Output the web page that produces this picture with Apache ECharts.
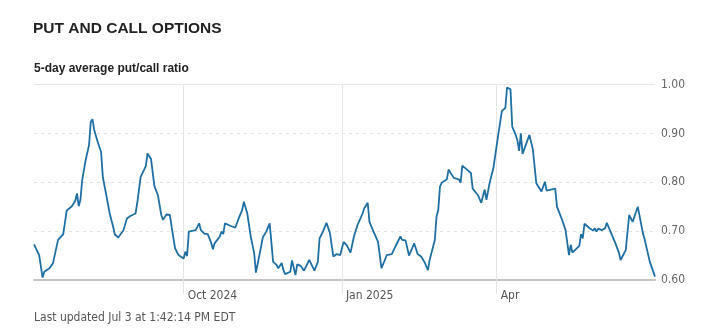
<!DOCTYPE html>
<html>
<head>
<meta charset="utf-8">
<script src="https://cdn.jsdelivr.net/npm/echarts@6/dist/echarts.min.js"></script>
<style>
  html, body { margin: 0; padding: 0; background: #fff; }
  #chart { width: 715px; height: 333px; }
</style>
</head>
<body>
<div id="chart"></div>
<script>
// 5-day average put/call ratio, one point per observed turning point
const dates = [
  '2024-07-06','2024-07-09','2024-07-11','2024-07-12','2024-07-15','2024-07-17','2024-07-20','2024-07-23',
  '2024-07-25','2024-07-26','2024-07-28','2024-07-30','2024-07-31','2024-08-01','2024-08-02','2024-08-03',
  '2024-08-05','2024-08-07','2024-08-08','2024-08-09','2024-08-10','2024-08-12','2024-08-14','2024-08-15',
  '2024-08-17','2024-08-19','2024-08-21','2024-08-22','2024-08-24','2024-08-25','2024-08-27','2024-08-29',
  '2024-08-31','2024-09-03','2024-09-04','2024-09-06','2024-09-09','2024-09-10','2024-09-12','2024-09-14',
  '2024-09-16','2024-09-18','2024-09-19','2024-09-21','2024-09-23','2024-09-24','2024-09-25','2024-09-26',
  '2024-09-28','2024-10-01','2024-10-02','2024-10-03','2024-10-04','2024-10-05','2024-10-08','2024-10-10',
  '2024-10-11','2024-10-13','2024-10-15','2024-10-17','2024-10-18','2024-10-19','2024-10-22','2024-10-23',
  '2024-10-24','2024-10-25','2024-10-28','2024-10-31','2024-11-02','2024-11-04','2024-11-05','2024-11-07',
  '2024-11-09','2024-11-11','2024-11-12','2024-11-13','2024-11-15','2024-11-16','2024-11-18','2024-11-20',
  '2024-11-21','2024-11-22','2024-11-24','2024-11-25','2024-11-27','2024-11-28','2024-11-29','2024-12-02',
  '2024-12-03','2024-12-05','2024-12-06','2024-12-08','2024-12-10','2024-12-13','2024-12-16','2024-12-18',
  '2024-12-19','2024-12-21','2024-12-23','2024-12-25','2024-12-26','2024-12-27','2024-12-29','2024-12-30',
  '2024-12-31','2025-01-02','2025-01-04','2025-01-06','2025-01-08','2025-01-10','2025-01-13','2025-01-14',
  '2025-01-16','2025-01-17','2025-01-19','2025-01-22','2025-01-24','2025-01-26','2025-01-27','2025-01-28',
  '2025-01-30','2025-02-01','2025-02-04','2025-02-05','2025-02-07','2025-02-09','2025-02-12','2025-02-14',
  '2025-02-16','2025-02-18','2025-02-20','2025-02-21','2025-02-24','2025-02-25','2025-02-26','2025-02-27',
  '2025-02-28','2025-03-03','2025-03-04','2025-03-07','2025-03-10','2025-03-11','2025-03-12','2025-03-14',
  '2025-03-17','2025-03-18','2025-03-19','2025-03-21','2025-03-23','2025-03-25','2025-03-26','2025-03-28',
  '2025-03-30','2025-03-31','2025-04-01','2025-04-02','2025-04-04','2025-04-06','2025-04-07','2025-04-08',
  '2025-04-09','2025-04-10','2025-04-12','2025-04-13','2025-04-14','2025-04-15','2025-04-16','2025-04-20',
  '2025-04-22','2025-04-24','2025-04-27','2025-04-29','2025-04-30','2025-05-05','2025-05-06','2025-05-09',
  '2025-05-11','2025-05-13','2025-05-14','2025-05-15','2025-05-19','2025-05-20','2025-05-21','2025-05-22',
  '2025-05-25','2025-05-27','2025-05-28','2025-05-29','2025-05-30','2025-06-01','2025-06-03','2025-06-04',
  '2025-06-07','2025-06-09','2025-06-11','2025-06-12','2025-06-15','2025-06-17','2025-06-19','2025-06-22',
  '2025-06-23','2025-06-25','2025-06-26','2025-06-29','2025-07-02'
];

const ratios = [
  0.673,0.651,0.605,0.617,0.624,0.634,0.682,0.694,
  0.742,0.745,0.751,0.762,0.777,0.751,0.764,0.804,
  0.845,0.876,0.924,0.929,0.907,0.883,0.862,0.811,
  0.774,0.736,0.709,0.693,0.687,0.692,0.702,0.726,
  0.731,0.736,0.757,0.811,0.833,0.859,0.848,0.792,
  0.774,0.733,0.723,0.734,0.733,0.709,0.709,0.665,
  0.651,0.644,0.658,0.649,0.699,0.701,0.702,0.716,
  0.702,0.695,0.694,0.676,0.663,0.675,0.689,0.699,
  0.694,0.716,0.711,0.707,0.726,0.743,0.760,0.736,
  0.689,0.655,0.615,0.614,0.668,0.687,0.699,0.716,
  0.715,0.637,0.631,0.624,0.635,0.620,0.612,0.617,
  0.640,0.610,0.632,0.629,0.619,0.641,0.619,0.637,
  0.685,0.699,0.717,0.697,0.694,0.648,0.653,0.656,
  0.651,0.678,0.670,0.656,0.689,0.712,0.736,0.747,
  0.758,0.719,0.702,0.678,0.624,0.641,0.651,0.648,
  0.653,0.668,0.689,0.682,0.681,0.650,0.675,0.653,
  0.648,0.637,0.620,0.641,0.682,0.730,0.743,0.791,
  0.799,0.806,0.826,0.809,0.806,0.799,0.834,0.828,
  0.819,0.787,0.784,0.774,0.758,0.785,0.764,0.801,
  0.828,0.852,0.856,0.900,0.946,0.952,0.994,0.997,
  0.990,0.914,0.897,0.886,0.864,0.900,0.858,0.897,
  0.867,0.798,0.781,0.801,0.783,0.787,0.750,0.723,
  0.702,0.651,0.672,0.656,0.670,0.694,0.685,0.715,
  0.706,0.701,0.706,0.699,0.705,0.702,0.706,0.717,
  0.692,0.675,0.656,0.641,0.661,0.733,0.719,0.750,
  0.748,0.695,0.683,0.637,0.607
];

// x-axis month markers
const tickDates = ['2024-10-01', '2025-01-01', '2025-04-01'];
const tickLabels = ['Oct 2024', 'Jan 2025', 'Apr'];

const axisStart = '2024-07-06';
const axisEnd = '2025-07-02';

function toTime(s) {
  const p = s.split('-').map(Number);
  return new Date(p[0], p[1] - 1, p[2]).getTime();
}

const tickTimes = tickDates.map(toTime);
const labelByTime = {};
tickTimes.forEach((t, i) => { labelByTime[t] = tickLabels[i]; });

const seriesData = dates.map((d, i) => [toTime(d), ratios[i]]);

const narrowFont = '"DejaVu Sans Condensed", "Liberation Sans Narrow", "Roboto", sans-serif';
const boldFont = '"Liberation Sans", Arial, sans-serif';

const chart = echarts.init(document.getElementById('chart'), null, { renderer: 'canvas' });

chart.setOption({
  animation: false,
  backgroundColor: '#ffffff',
  title: [
    {
      text: 'PUT AND CALL OPTIONS',
      left: 33, top: 21,
      padding: 0,
      textStyle: { fontFamily: boldFont, fontWeight: 'bold', fontSize: 15.5, color: '#222222' }
    },
    {
      text: '5-day average put/call ratio',
      left: 34, top: 63,
      padding: 0,
      textStyle: { fontFamily: boldFont, fontWeight: 'bold', fontSize: 12, color: '#222222' }
    },
    {
      text: 'Last updated Jul 3 at 1:42:14 PM EDT',
      left: 34, top: 312,
      padding: 0,
      textStyle: { fontFamily: narrowFont, fontWeight: 'normal', fontSize: 12, color: '#555555' }
    }
  ],
  grid: { left: 34, right: 60, top: 84.5, bottom: 53, containLabel: false },
  // linear time scale in milliseconds, ticks only at the month markers
  xAxis: {
    type: 'value',
    min: toTime(axisStart),
    max: toTime(axisEnd),
    axisLine: { show: true, lineStyle: { color: '#c4c4c4', width: 2 } },
    axisTick: {
      show: true,
      customValues: tickTimes,
      length: 14,
      lineStyle: { color: '#e4e4e4', width: 1 }
    },
    axisLabel: {
      show: true,
      customValues: tickTimes,
      formatter: (v) => labelByTime[v] || '',
      align: 'left',
      padding: [0, 0, 0, 4],
      margin: 10,
      fontFamily: narrowFont,
      fontSize: 12,
      color: '#555555'
    },
    splitLine: { show: false }
  },
  yAxis: {
    type: 'value',
    position: 'right',
    min: 0.6,
    max: 1.0,
    interval: 0.1,
    axisLine: { show: false },
    axisTick: { show: false },
    axisLabel: {
      margin: 6,
      formatter: (v) => v.toFixed(2),
      fontFamily: narrowFont,
      fontSize: 12,
      color: '#666666'
    },
    splitLine: { show: true, lineStyle: { color: '#e2e2e2', type: [3, 4], width: 1 } }
  },
  series: [
    {
      type: 'line',
      data: seriesData,
      showSymbol: false,
      symbol: 'none',
      lineStyle: { color: '#1f6fa3', width: 1.8 },
      z: 5,
      markLine: {
        silent: true,
        symbol: 'none',
        label: { show: false },
        lineStyle: { color: '#e6e6e6', type: 'solid', width: 1 },
        data: tickTimes.map((t) => ({ xAxis: t })).concat([{ yAxis: 1.0 }]),
        z: 1
      }
    }
  ]
});
</script>
</body>
</html>
